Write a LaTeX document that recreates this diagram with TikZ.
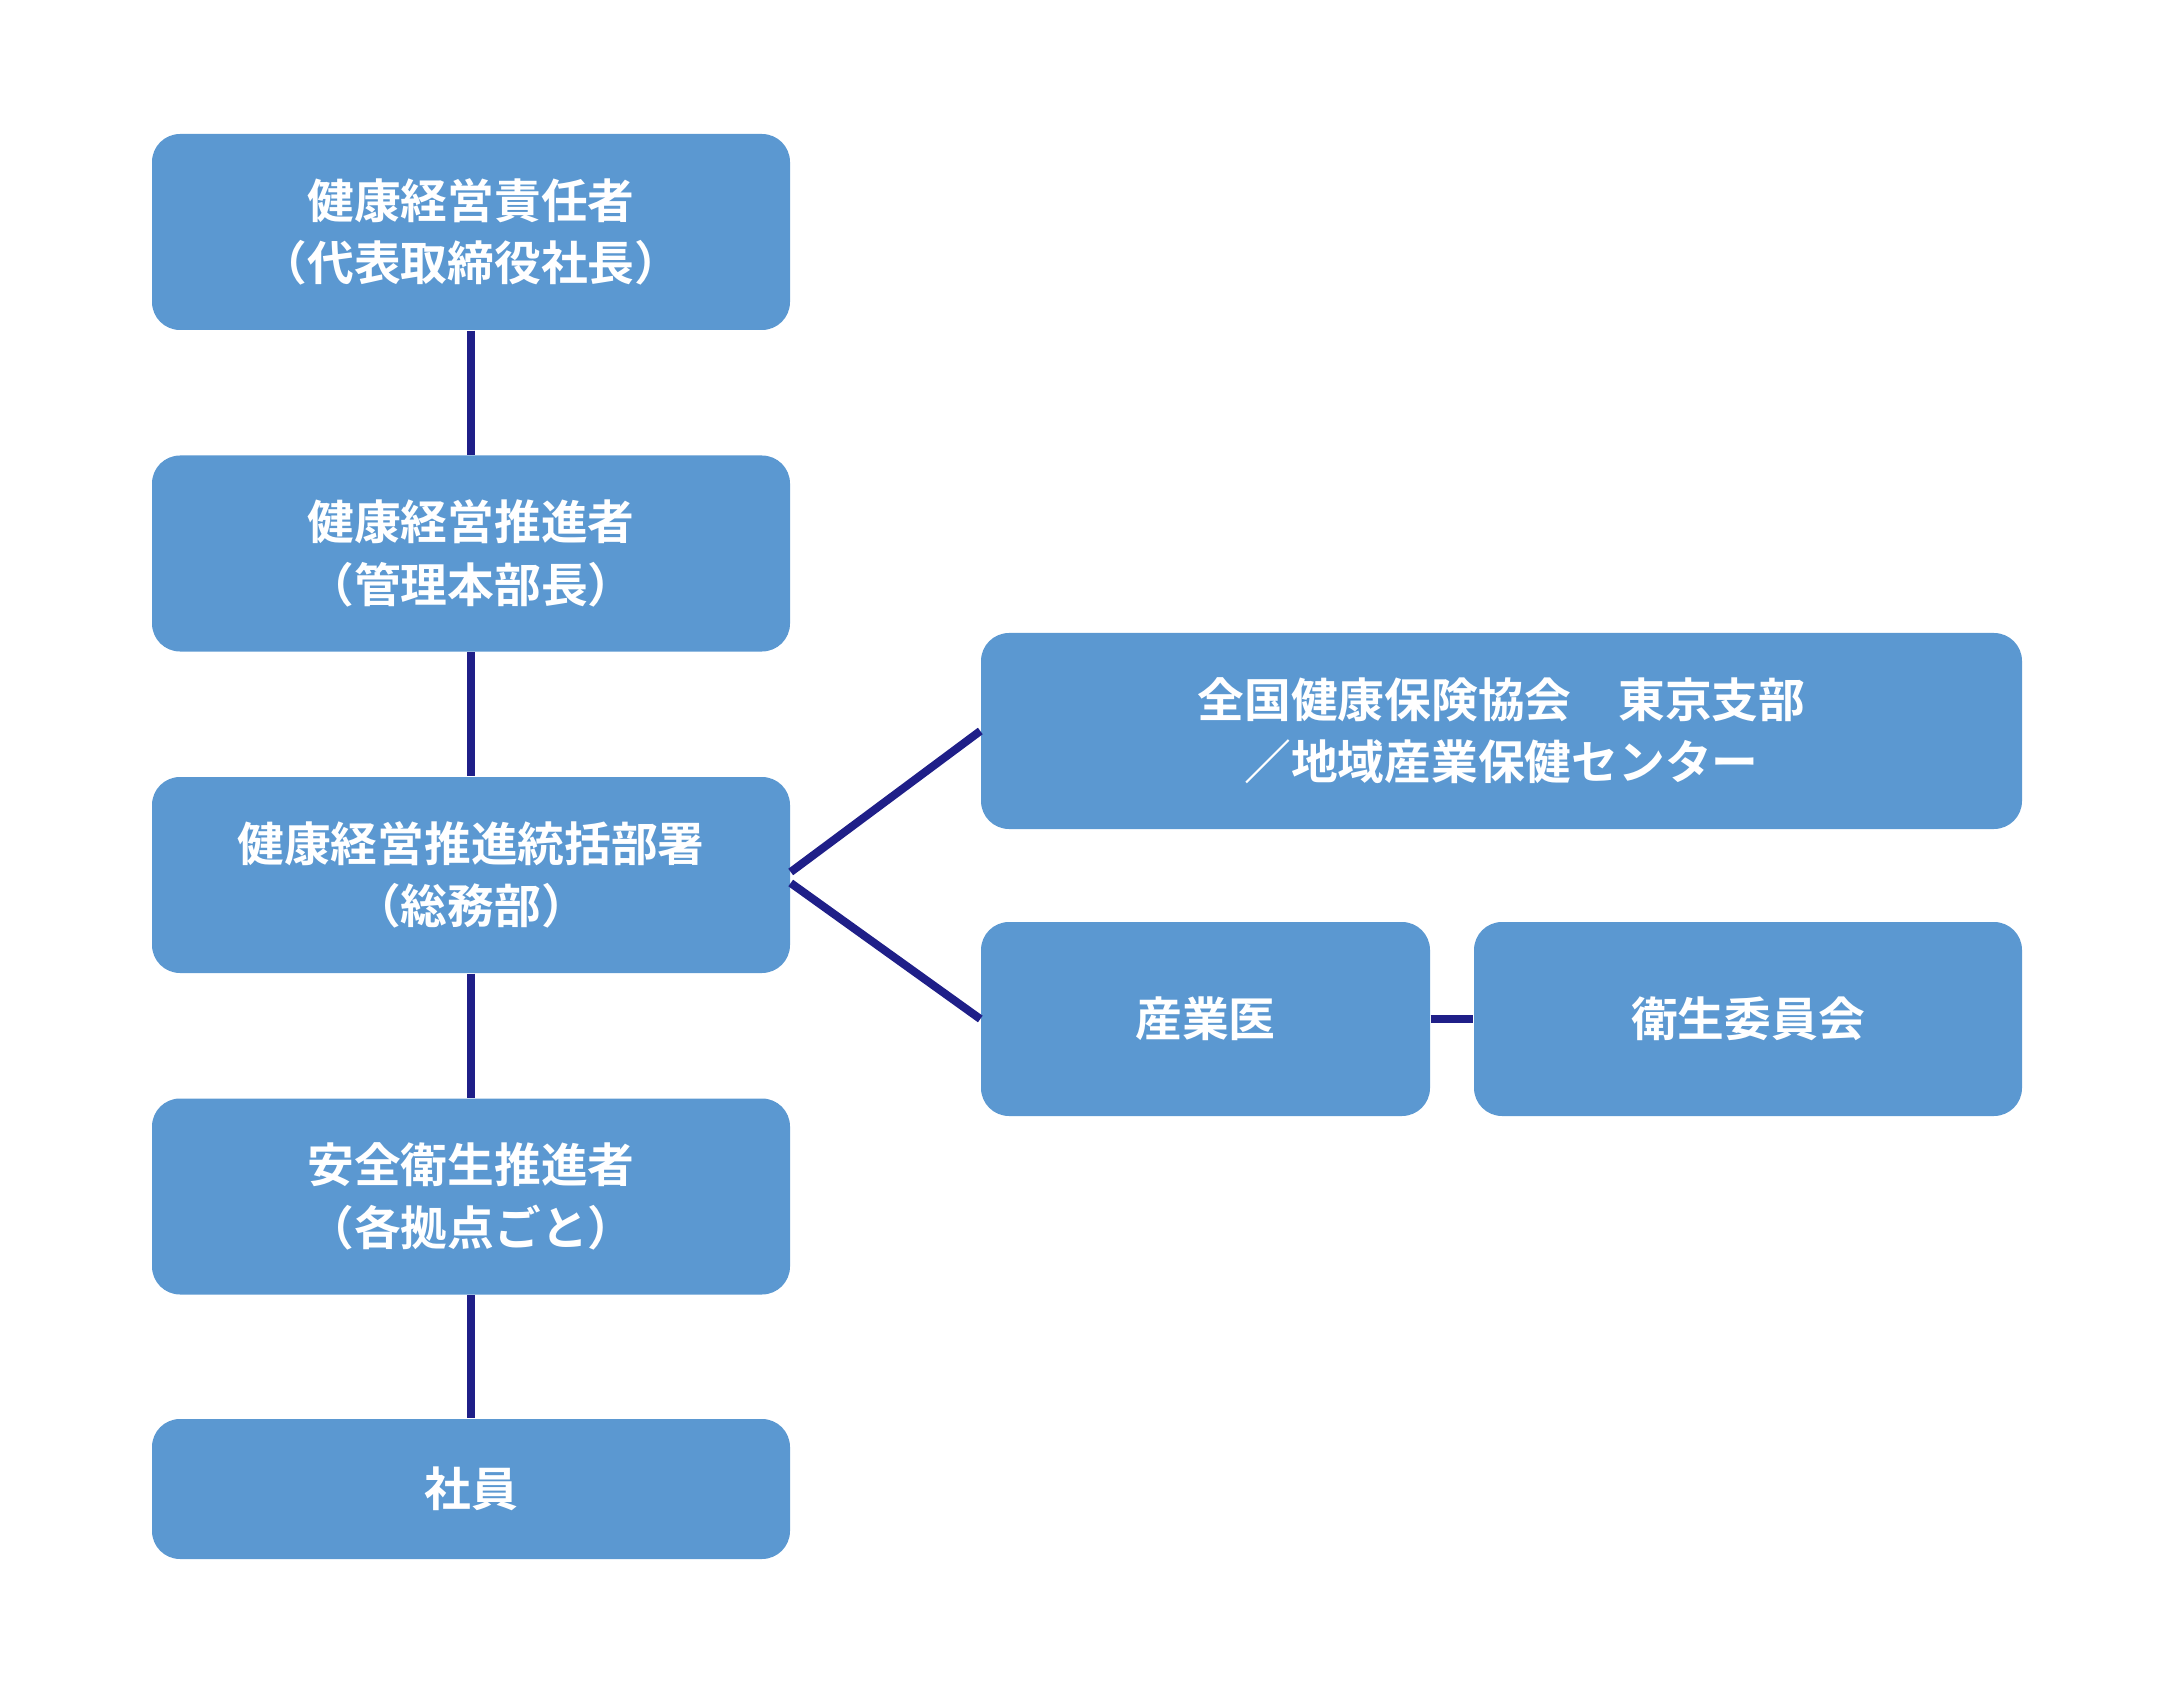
\documentclass[tikz,border=0pt]{standalone}
\usepackage{fontspec}
\setmainfont{Noto Sans CJK JP}[BoldFont={Noto Sans CJK JP Bold}]
\usepackage{xcolor}
\definecolor{boxblue}{HTML}{5B98D1}
\definecolor{linknavy}{HTML}{1F1F88}

\begin{document}
\begin{tikzpicture}[
    orgbox/.style={draw=none, fill=boxblue, rounded corners=0.28cm, text=white,
        minimum height=1.96cm, align=center, inner sep=0pt,
        font=\fontsize{13.3pt}{17.7pt}\selectfont\bfseries},
    link/.style={draw=linknavy, line width=2.3pt}
]
    \useasboundingbox (0,0) rectangle (21.73,-16.95);

    % --- left column ---
    \node[orgbox, minimum width=6.38cm] (sekinin) at (4.71,-2.32) {健康経営責任者\\（代表取締役社長）};
    \node[orgbox, minimum width=6.38cm] (suishin) at (4.71,-5.535) {健康経営推進者\\（管理本部長）};
    \node[orgbox, minimum width=6.38cm] (soumu) at (4.71,-8.75) {健康経営推進統括部署\\（総務部）};
    \node[orgbox, minimum width=6.38cm] (anzen) at (4.71,-11.965) {安全衛生推進者\\（各拠点ごと）};
    \node[orgbox, minimum width=6.38cm, minimum height=1.40cm] (shain) at (4.71,-14.89) {社員};

    % --- right side ---
    \node[orgbox, minimum width=10.41cm] (kyokai) at (15.015,-7.31) {全国健康保険協会　東京支部\\／地域産業保健センター};
    \node[orgbox, minimum width=4.49cm, minimum height=1.94cm] (sangyoi) at (12.055,-10.19) {産業医};
    \node[orgbox, minimum width=5.48cm, minimum height=1.94cm] (iinkai) at (17.48,-10.19) {衛生委員会};

    % --- connectors ---
    \draw[link] (sekinin) -- (suishin);
    \draw[link] (suishin) -- (soumu);
    \draw[link] (soumu) -- (anzen);
    \draw[link] (anzen) -- (shain);
    \draw[link] ([yshift=0.03cm]soumu.east) -- (kyokai.west);
    \draw[link] ([yshift=-0.08cm]soumu.east) -- (sangyoi.west);
    \draw[link] (sangyoi) -- (iinkai);
\end{tikzpicture}
\end{document}
